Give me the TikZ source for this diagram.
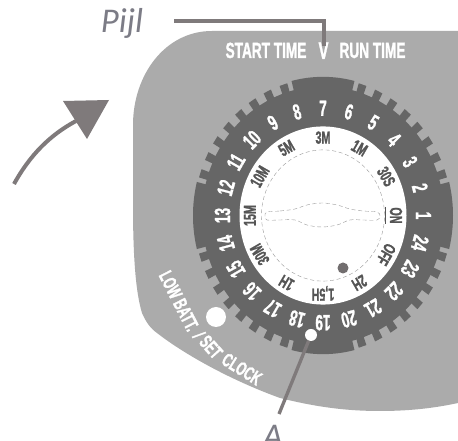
\documentclass[tikz,border=0pt]{standalone}
\usepackage{fontspec}
\newfontfamily\cf[FakeStretch=0.62,FakeBold=1.2]{Liberation Sans Bold}
\setmainfont{Carlito}
\definecolor{panel}{HTML}{ABABAB}
\definecolor{dialc}{HTML}{666666}
\definecolor{inkc}{HTML}{555555}
\definecolor{lead}{HTML}{7F7A7B}
\definecolor{calloutc}{HTML}{7C7C86}
\tikzset{
  digitlbl/.style={text=white,inner sep=0pt,font=\cf\fontsize{16.5}{16.5}\selectfont},
  timelbl/.style={text=inkc,inner sep=0pt,font=\cf\fontsize{13}{13}\selectfont},
  headlbl/.style={text=white,inner sep=0pt,font=\cf\fontsize{16.5}{16.5}\selectfont},
  sidelbl/.style={text=white,inner sep=0pt,font=\cf\fontsize{14.5}{14.5}\selectfont},
  calloutlbl/.style={text=calloutc,inner sep=0pt,font=\itshape\fontsize{26}{26}\selectfont},
  leader/.style={draw=lead,line width=2.5pt},
  hair/.style={draw=black!40,line width=.3pt,densely dashed}
}
\begin{document}
\begin{tikzpicture}[x=.75pt,y=-.75pt]
\clip (0,0) rectangle (458,441);
\fill[white] (0,0) rectangle (458,441);
% panel
\fill[panel] (458,31) -- (212,31) .. controls (165,31) and (133,75) .. (133,125)
  -- (133,205) .. controls (133,250) and (135,290) .. (142,313)
  .. controls (146,322) and (150,328) .. (157,333)
  .. controls (180,351) and (225,378) .. (280,398)
  .. controls (320,408) and (350,411) .. (380,411)
  .. controls (410,411) and (435,408) .. (458,403) -- cycle;
% dial
\begin{scope}[shift={(323,215.5)},x=.75pt,y=.8pt]
  \fill[dialc] (0,0) ellipse [x radius=121,y radius=121];
  \foreach \q in {0,90,180,270}{
    \fill[dialc] (\q-14:110) -- (\q-14:130) arc [start angle=\q-14,end angle=\q+14,x radius=130,y radius=130] -- (\q+14:110) -- cycle;
    \foreach \t in {0,...,7}{
      \pgfmathsetmacro\ang{\q+45+(\t-3.5)*7.75}
      \fill[dialc] (\ang-1.8:115) -- (\ang-1.8:129) -- (\ang+1.8:129) -- (\ang+1.8:115) -- cycle;
    }
  }
  \fill[white] (0,0) ellipse [x radius=83.5,y radius=83.5];
  \draw[hair] (0,0) ellipse [x radius=61.5,y radius=61.5];
  \foreach \k in {1,...,24}{
    \pgfmathsetmacro\ang{90+(\k-7)*15}
    \pgfmathsetmacro\rot{\ang-90}
    \node[digitlbl,rotate=\rot] (d\k) at (\ang:100.5) {\k};
  }
  \node[timelbl,rotate=0]   (t1) at (90:73)  {3M};
  \node[timelbl,rotate=30]  (t2) at (120:73) {5M};
  \node[timelbl,rotate=60]  (t3) at (150:73) {10M};
  \node[timelbl,rotate=90]  (t4) at (180:73) {15M};
  \node[timelbl,rotate=120] (t5) at (210:73) {30M};
  \node[timelbl,rotate=150] (t6) at (240:73) {1H};
  \node[timelbl,rotate=180] (t7) at (270:73) {1,5H};
  \node[timelbl,rotate=210] (t8) at (300:73) {2H};
  \node[timelbl,rotate=240] (t9) at (330:73) {OFF};
  \node[timelbl,rotate=270] (t10) at (360:73) {ON};
  \node[timelbl,rotate=300] (t11) at (30:73) {30S};
  \node[timelbl,rotate=330] (t12) at (60:73) {1M};
\end{scope}
% lens
\draw[hair] plot[smooth cycle,tension=.6] coordinates {(267,212) (280,211) (295,209) (307,205) (322,203) (337,205) (350,209) (363,211) (377,212) (380,216) (377,220) (363,220) (350,220) (337,225) (322,227) (307,225) (295,220) (280,220) (267,220) (265,216)};
\draw[inkc,line width=.6pt] (385,207) -- (385,224);
% dots
\fill[white] (216,317) circle (10);
\node[circle,fill=white,inner sep=0pt,minimum size=9pt] (knob) at (311,335) {};
\fill[lead!90!black] (343,268) circle (5.5);
% header
\node[headlbl,anchor=base] (st) at (266,58) {START TIME};
\node[headlbl,anchor=base] (rt) at (372.5,58) {RUN TIME};
\node[headlbl,anchor=base,font=\cf\fontsize{18}{18}\selectfont] (vmark) at (323.5,59) {V};
% side text
\node[sidelbl,rotate=-63] (low) at (179,301) {LOW BATT.};
\node[sidelbl,rotate=-63] (slash) at (199,335) {/};
\node[sidelbl,rotate=-48] (set) at (211,347) {SET};
\node[sidelbl,rotate=-32] (clock) at (242,369) {CLOCK};
% callouts
\node[calloutlbl,anchor=base] (pijl) at (122,33) {Pijl};
\node[calloutlbl,anchor=base] (alab) at (273,448) {A};
\coordinate (pstart) at (174,21);
\coordinate (pcorner) at (324,21);
\coordinate (pend) at (324,46);
\draw[leader] (pstart) -- (pcorner) -- (pend);
\coordinate (aend) at (279,414);
\draw[leader] (knob) -- (aend);
% curved arrow
\coordinate (cstart) at (14,184);
\coordinate (cend) at (76,121);
\draw[lead,line width=3pt] (cstart) .. controls (30,155) and (50,135) .. (cend);
\fill[lead] (63,101) -- (109,100) -- (87,139) -- cycle;
\end{tikzpicture}
\end{document}
